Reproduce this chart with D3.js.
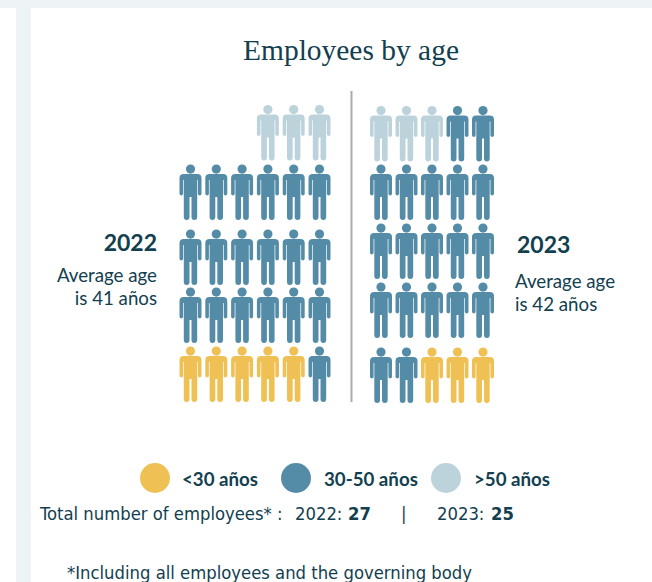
<!DOCTYPE html>
<html>
<head>
<meta charset="utf-8">
<script src="https://cdn.jsdelivr.net/npm/d3@7"></script>
<style>
html,body{margin:0;padding:0;background:#fff;overflow:hidden}
svg{display:block}
.lato{font-family:Lato,sans-serif}
.plain{font-family:"DejaVu Sans Condensed","DejaVu Sans",sans-serif}
</style>
</head>
<body>
<div id="chart"></div>
<script>
// Age bands and the seating of each person, rows listed top to bottom
const ageBands = ["<30 años", "30-50 años", ">50 años"];
const bandColors = ["#EFC155", "#548CA8", "#BDD3DC"];
const years = ["2022", "2023"];
const people2022 = [
  [null, null, null, 2, 2, 2],
  [1, 1, 1, 1, 1, 1],
  [1, 1, 1, 1, 1, 1],
  [1, 1, 1, 1, 1, 1],
  [0, 0, 0, 0, 0, 1]
];
const people2023 = [
  [2, 2, 2, 1, 1],
  [1, 1, 1, 1, 1],
  [1, 1, 1, 1, 1],
  [1, 1, 1, 1, 1],
  [1, 1, 0, 0, 0]
];
const averageAges = [41, 42];
const totals = [27, 25];

const width = 652, height = 582;
const svg = d3.select("#chart").append("svg").attr("width", width).attr("height", height);
const ink = "#12404F";

// Page background bands
svg.append("rect").attr("width", width).attr("height", 8).attr("fill", "#EEF3F6");
svg.append("rect").attr("x", 16).attr("width", 15).attr("height", height).attr("fill", "#EEF3F6");

svg.append("text").attr("x", 351).attr("y", 60).attr("text-anchor", "middle")
  .attr("font-family", "'Liberation Serif',serif").attr("font-size", 29).attr("fill", ink)
  .attr("textLength", 216).attr("lengthAdjust", "spacingAndGlyphs")
  .text("Employees by age");

// Pictogram: one outline per person, origin at the top centre of the head
const personBody = "M-6.8,9.4H6.8Q11,9.4 11,13.6V29.6A1.85,1.85 0 0 1 7.4,29.6V15.6H6.7V52.6A2.85,2.85 0 0 1 1,52.6V32.5H-1V52.6A2.85,2.85 0 0 1 -6.7,52.6V15.6H-7.4V29.6A1.85,1.85 0 0 1 -11,29.6V13.6Q-11,9.4 -6.8,9.4Z";

function drawPeople(rows, xRange, yTops) {
  const x = d3.scalePoint().domain(d3.range(rows[0].length)).range(xRange);
  const y = d3.scaleOrdinal().domain(d3.range(rows.length)).range(yTops);
  const color = d3.scaleOrdinal().domain(d3.range(ageBands.length)).range(bandColors);
  const placed = rows.flatMap((cells, row) => cells.map((band, col) => ({band, row, col})))
    .filter(d => d.band !== null);
  const g = svg.append("g").selectAll("g").data(placed).join("g")
    .attr("transform", d => `translate(${x(d.col)},${y(d.row)})`)
    .attr("fill", d => color(d.band));
  g.append("circle").attr("cy", 4.6).attr("r", 4.6);
  g.append("path").attr("d", personBody);
}

drawPeople(people2022, [190.5, 319.5], [105, 164.5, 229.5, 287.5, 346.5]);
drawPeople(people2023, [381, 483], [106, 164.5, 223.5, 282.5, 347.5]);

// Divider between the two years
svg.append("line").attr("x1", 351.5).attr("x2", 351.5).attr("y1", 91).attr("y2", 402)
  .attr("stroke", "#ABABAB").attr("stroke-width", 2);

// Year captions
const caption = svg.append("g").attr("class", "lato").attr("fill", ink);
caption.append("text").attr("x", 157).attr("y", 251).attr("text-anchor", "end")
  .attr("font-size", 23).attr("font-weight", 700).text(years[0]);
caption.append("text").attr("x", 157).attr("y", 282).attr("text-anchor", "end")
  .attr("font-size", 18.7).text("Average age");
caption.append("text").attr("x", 157).attr("y", 305).attr("text-anchor", "end")
  .attr("font-size", 18.7).text(`is ${averageAges[0]} años`);
caption.append("text").attr("x", 517).attr("y", 253)
  .attr("font-size", 23).attr("font-weight", 700).text(years[1]);
caption.append("text").attr("x", 515).attr("y", 288)
  .attr("font-size", 18.7).text("Average age");
caption.append("text").attr("x", 515).attr("y", 311)
  .attr("font-size", 18.7).text(`is ${averageAges[1]} años`);

// Legend
const legendX = d3.scaleOrdinal().domain(ageBands).range([155, 296, 446]);
const legendLabelX = d3.scaleOrdinal().domain(ageBands).range([182, 324, 474]);
const legend = svg.append("g").selectAll("g").data(ageBands).join("g");
legend.append("circle").attr("cx", d => legendX(d)).attr("cy", 478).attr("r", 15)
  .attr("fill", (d, i) => bandColors[i]);
legend.append("text").attr("class", "lato").attr("x", d => legendLabelX(d)).attr("y", 485.5)
  .attr("font-size", 18.7).attr("font-weight", 700).attr("fill", ink).text(d => d);

// Totals line
const plain = svg.append("g").attr("class", "plain").attr("fill", ink).attr("font-size", 18.3);
plain.append("text").attr("x", 40).attr("y", 519.5).text("Total number of employees* :");
plain.append("text").attr("x", 295).attr("y", 519.5).text(`${years[0]}:`);
plain.append("text").attr("x", 348).attr("y", 519.5).attr("font-weight", 700).text(totals[0]);
plain.append("text").attr("x", 401).attr("y", 519.5).text("|");
plain.append("text").attr("x", 437).attr("y", 519.5).text(`${years[1]}:`);
plain.append("text").attr("x", 491).attr("y", 519.5).attr("font-weight", 700).text(totals[1]);
plain.append("text").attr("x", 67).attr("y", 578.5).text("*Including all employees and the governing body");
</script>
</body>
</html>
